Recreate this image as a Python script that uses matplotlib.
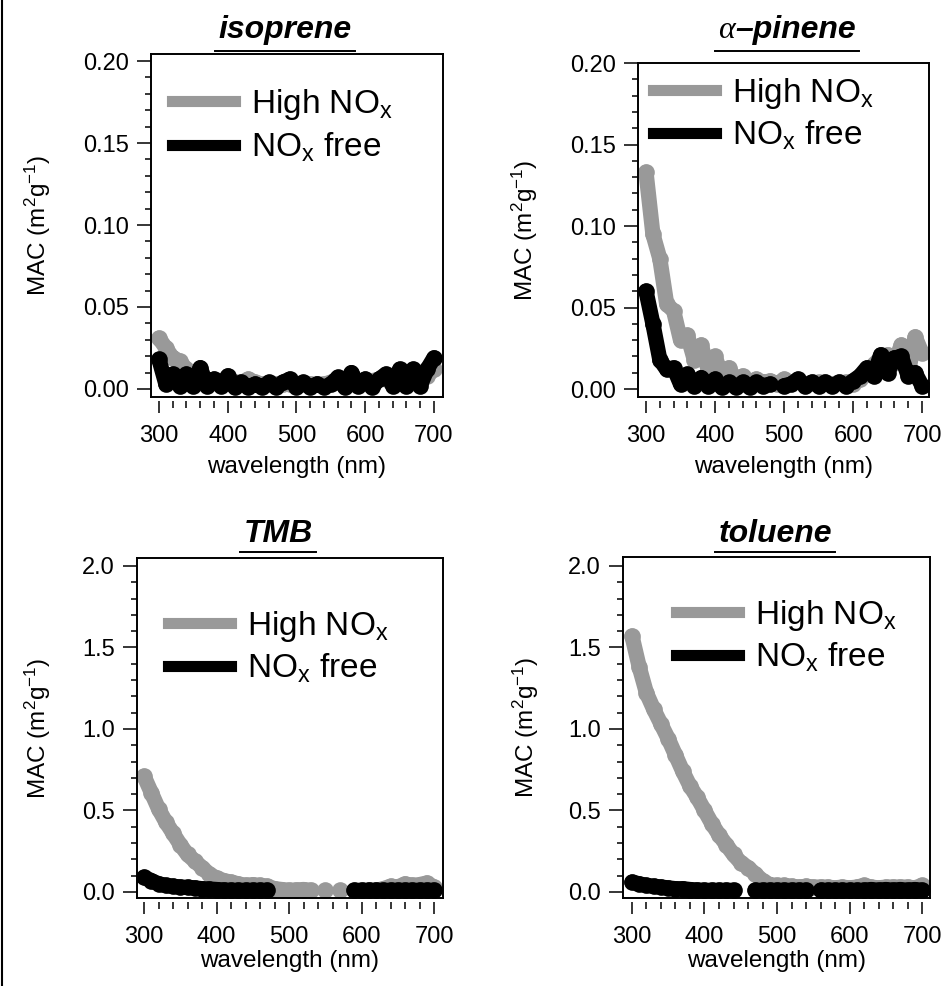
import numpy as np
import matplotlib
matplotlib.use('Agg')
import matplotlib.pyplot as plt
from matplotlib.lines import Line2D
from matplotlib.ticker import MultipleLocator, FormatStrFormatter

plt.rcParams['font.family'] = 'Liberation Sans'
plt.rcParams['mathtext.fontset'] = 'custom'
plt.rcParams['mathtext.rm'] = 'Liberation Sans'
plt.rcParams['mathtext.it'] = 'Liberation Sans:italic'
plt.rcParams['mathtext.bf'] = 'Liberation Sans:bold'

# ---- data ----
wl = np.arange(300, 701, 10)
nan = np.nan

iso_high = [0.031, 0.025, 0.019, 0.017, 0.012, 0.008, 0.006, 0.005, 0.004, 0.004,
            0.004, 0.004, 0.004, 0.006, 0.004, 0.003, 0.003, 0.003, 0.003, 0.003,
            0.003, 0.003, 0.003, 0.003, 0.003, 0.004, 0.004, 0.004, 0.005, 0.005,
            0.005, 0.005, 0.006, 0.006, 0.006, 0.006, 0.007, 0.007, 0.007, 0.008,
            0.012]
iso_free = [0.018, 0.003, 0.009, 0.002, 0.009, 0.002, 0.013, 0.002, 0.006, 0.002,
            0.008, 0.001, 0.004, 0.001, 0.003, 0.001, 0.004, 0.001, 0.004, 0.006,
            0.001, 0.004, 0.001, 0.003, 0.001, 0.003, 0.007, 0.001, 0.010, 0.002,
            0.006, 0.001, 0.006, 0.009, 0.002, 0.012, 0.002, 0.012, 0.002, 0.012,
            0.019]

apin_high = [0.133, 0.095, 0.080, 0.052, 0.048, 0.030, 0.033, 0.018, 0.027, 0.012,
             0.020, 0.008, 0.013, 0.005, 0.008, 0.004, 0.006, 0.004, 0.005, 0.003,
             0.006, 0.004, 0.005, 0.003, 0.004, 0.004, 0.004, 0.003, 0.004, 0.004,
             0.003, 0.006, 0.009, 0.015, 0.019, 0.021, 0.016, 0.027, 0.010, 0.032,
             0.022]
apin_free = [0.060, 0.040, 0.018, 0.012, 0.013, 0.003, 0.009, 0.002, 0.007, 0.002,
             0.006, 0.001, 0.004, 0.001, 0.004, 0.001, 0.004, 0.002, 0.003, nan,
             0.002, 0.003, 0.006, 0.002, 0.004, 0.002, 0.004, 0.002, 0.004, 0.002,
             0.005, 0.008, 0.013, 0.008, 0.021, 0.010, 0.019, 0.020, 0.008, 0.010,
             0.002]

tmb_high = [0.71, 0.61, 0.51, 0.43, 0.36, 0.29, 0.23, 0.19, 0.15, 0.11,
            0.085, 0.07, 0.06, 0.05, 0.04, 0.045, 0.04, 0.035, 0.02, 0.015,
            0.01, 0.012, 0.015, 0.01, nan, 0.01, nan, 0.01, nan, nan,
            0.005, 0.01, 0.01, 0.02, 0.035, 0.03, 0.05, 0.04, 0.045, 0.055,
            0.03]
tmb_free = [0.09, 0.07, 0.05, 0.04, 0.035, 0.03, 0.028, 0.025, 0.02, 0.018,
            0.015, 0.012, 0.01, 0.01, 0.01, 0.01, 0.01, 0.01, nan, nan,
            nan, nan, nan, nan, nan, nan, nan, nan, nan, 0.01,
            0.01, 0.01, 0.01, 0.01, 0.01, 0.01, 0.01, 0.01, 0.01, 0.01,
            0.01]

tol_high = [1.57, 1.38, 1.22, 1.12, 1.03, 0.94, 0.84, 0.74, 0.65, 0.58,
            0.50, 0.42, 0.35, 0.29, 0.23, 0.18, 0.15, 0.11, 0.07, 0.045,
            0.04, 0.04, 0.035, 0.03, 0.035, 0.03, 0.03, 0.03, 0.025, 0.03,
            0.025, 0.03, 0.04, 0.03, 0.025, 0.03, 0.03, 0.03, 0.03, 0.025,
            0.04]
tol_free = [0.06, 0.05, 0.04, 0.035, 0.03, 0.025, 0.02, 0.02, 0.015, 0.012,
            0.01, 0.01, 0.01, 0.01, 0.01, nan, nan, 0.01, 0.01, 0.01,
            0.01, 0.01, 0.01, 0.01, 0.01, nan, 0.01, 0.01, 0.01, 0.01,
            0.01, 0.01, 0.01, 0.015, 0.01, 0.015, 0.01, 0.015, 0.01, 0.015,
            0.01]

titles = ['isoprene', 'α–pinene', 'TMB', 'toluene']
high = [iso_high, apin_high, tmb_high, tol_high]
free = [iso_free, apin_free, tmb_free, tol_free]
labels = ['High NO$_\\mathregular{x}$', 'NO$_\\mathregular{x}$ free']

# ---- layout (pixels of the 945x986 canvas) ----
W, H = 945, 986
def fx(x):
    return x / W
def fy(y):
    return 1 - y / H

boxes = [(151, 443, 54, 397), (638, 929, 63, 397), (137, 443, 558, 898), (623, 930, 557, 898)]
xlims = [(288.4, 713.1), (288.4, 710.1), (290.3, 712.4), (287.6, 711.0)]
ylims = [(-0.0049, 0.2043), (-0.0049, 0.2), (-0.037, 2.049), (-0.037, 2.055)]
ymaj = [0.05, 0.05, 0.5, 0.5]
ymin = [0.01, 0.01, 0.1, 0.1]
yfmt = ['%.2f', '%.2f', '%.1f', '%.1f']
leg_pos = [(0.072, 0.792), (0.052, 0.847), (0.101, 0.738), (0.173, 0.768)]
ylab_x = [38, 525, 38, 526]
xlab_y = [467, 467, 961, 961]
title_x = [285, 735, 278, 775]
title_y = [38, 38, 542, 542]
uline_y = [51, 51, 552, 552]

GRAY = '#999999'
TICK_FS = 17
LAB_FS = 17.5
LEG_FS = 24
TITLE_FS = 23

fig = plt.figure(figsize=(W / 100, H / 100), dpi=100)

title_texts = []
for i in range(4):
    l, r, t, b = boxes[i]
    ax = fig.add_axes([fx(l), fy(b), (r - l) / W, (b - t) / H])
    style = dict(lw=11, marker='o', ms=12, mew=0, solid_capstyle='round', solid_joinstyle='round')
    ax.plot(wl, high[i], color=GRAY, **style)
    ax.plot(wl, free[i], color='k', **style)
    ax.set_xlim(*xlims[i])
    ax.set_ylim(*ylims[i])

    ax.xaxis.set_major_locator(MultipleLocator(100))
    ax.xaxis.set_minor_locator(MultipleLocator(20))
    ax.yaxis.set_major_locator(MultipleLocator(ymaj[i]))
    ax.yaxis.set_minor_locator(MultipleLocator(ymin[i]))
    ax.yaxis.set_major_formatter(FormatStrFormatter(yfmt[i]))

    ax.tick_params(which='both', direction='out', top=False, right=False, width=1.1, labelsize=TICK_FS)
    ax.tick_params(axis='y', which='major', length=10, pad=6)
    ax.tick_params(axis='y', which='minor', length=4)
    ax.tick_params(axis='x', which='major', length=8.6, pad=8.5)
    ax.tick_params(axis='x', which='minor', length=5)
    for s in ax.spines.values():
        s.set_linewidth(1.4)
    # x axis sits a little below the frame
    ax.spines['bottom'].set_position(('outward', 3))
    ax.spines['bottom'].set_visible(False)
    ax.plot([0, 1], [0, 0], transform=ax.transAxes, color='k', lw=1.4, clip_on=False, zorder=5)

    handles = [Line2D([], [], color=GRAY, lw=8), Line2D([], [], color='k', lw=8)]
    ax.legend(handles, labels, loc='center left', bbox_to_anchor=leg_pos[i], frameon=False,
              fontsize=LEG_FS, handlelength=1.9, handletextpad=0.48, labelspacing=0.25,
              borderpad=0, borderaxespad=0)

    fig.text(fx((l + r) / 2), fy(xlab_y[i]), 'wavelength (nm)', ha='center', va='center', fontsize=LAB_FS)
    fig.text(fx(ylab_x[i]), fy((t + b) / 2), 'MAC (m$^\\mathregular{2}$g$^\\mathregular{-1}$)',
             rotation=90, ha='center', va='center', fontsize=LAB_FS)

    name = titles[i]
    if name.startswith('α'):
        t1 = fig.text(fx(title_x[i]), fy(title_y[i]), name[1:], ha='left', va='baseline',
                      fontsize=TITLE_FS, fontweight='bold', fontstyle='italic')
        t2 = fig.text(fx(title_x[i]), fy(title_y[i]), name[0], ha='right', va='baseline',
                      fontsize=TITLE_FS, family='Liberation Serif', fontstyle='italic')
        title_texts.append([t1, t2])
    else:
        t1 = fig.text(fx(title_x[i]), fy(title_y[i]), name, ha='center', va='baseline',
                      fontsize=TITLE_FS, fontweight='bold', fontstyle='italic')
        title_texts.append([t1])

# underline the titles
fig.canvas.draw()
rend = fig.canvas.get_renderer()
for i, group in enumerate(title_texts):
    bbs = [tt.get_window_extent(rend) for tt in group]
    x0 = min(bb.x0 for bb in bbs) - 3
    x1 = max(bb.x1 for bb in bbs) + 3
    fig.add_artist(Line2D([x0 / W, x1 / W], [fy(uline_y[i])] * 2, color='k', lw=1.4,
                          transform=fig.transFigure))

# thin border on the left edge
fig.add_artist(Line2D([fx(2.5), fx(2.5)], [0, 1], color='k', lw=1.5, transform=fig.transFigure))

fig.savefig('out.png', dpi=100)
